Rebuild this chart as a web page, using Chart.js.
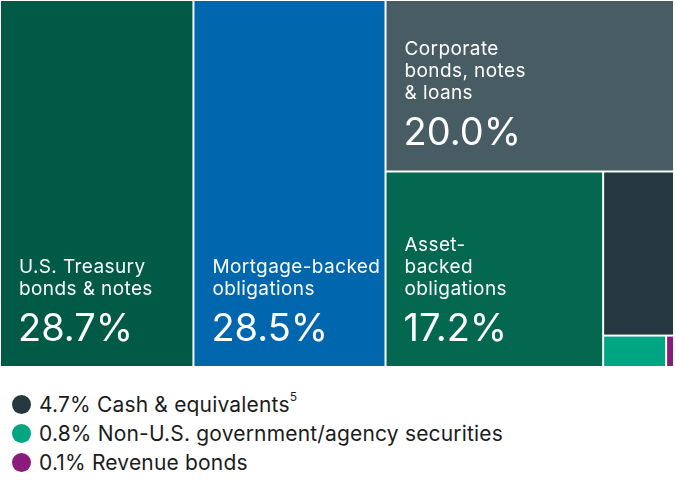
<!DOCTYPE html>
<html>
<head>
<meta charset="utf-8">
<script src="https://cdn.jsdelivr.net/npm/chart.js@4.4.1/dist/chart.umd.min.js"></script>
<style>
  html,body{margin:0;padding:0;background:#fff;}
  body{width:675px;height:500px;position:relative;overflow:hidden;font-family:Inter,Roboto,sans-serif;}
  #wrap{position:absolute;left:0;top:0;width:674px;height:367px;}
  #legend{position:absolute;left:12px;top:390px;}
  .legend-item{display:flex;align-items:center;height:29px;font-size:21px;letter-spacing:0.18px;color:#1c1c1c;}
  .legend-item .dot{width:19px;height:19px;border-radius:50%;margin-right:8px;flex:none;}
  .legend-item sup{font-size:12px;position:relative;top:-3px;}
</style>
</head>
<body>
<div id="wrap"><canvas id="tree"></canvas></div>
<div id="legend"></div>
<script>
// ---- datos ----
const categories = ['U.S. Treasury bonds & notes', 'Mortgage-backed obligations', 'Corporate bonds, notes & loans',
  'Asset-backed obligations', 'Cash & equivalents', 'Non-U.S. government/agency securities', 'Revenue bonds'];
const values = [28.7, 28.5, 20.0, 17.2, 4.7, 0.8, 0.1];
const colors = ['#005a46', '#0066ae', '#485c64', '#03684f', '#26383f', '#00a682', '#8a1b7b'];
// lines of text shown inside the bigger cells (null = shown in legend)
const cellLabels = [['U.S. Treasury', 'bonds & notes'], ['Mortgage-backed', 'obligations'],
  ['Corporate', 'bonds, notes', '& loans'], ['Asset-', 'backed', 'obligations'], null, null, null];
const footnotes = ['', '', '', '', '5', '', ''];

// nesting of the treemap: 'h' splits left to right, 'v' top to bottom
const tree = {dir:'h', kids:[0, 1, {dir:'v', kids:[2, {dir:'h', kids:[3, {dir:'v', kids:[4, {dir:'h', kids:[5, 6]}]}]}]}]};

function nodeSum(n){ return typeof n === 'number' ? values[n] : n.kids.reduce((s,k)=>s+nodeSum(k),0); }

// lays cells out in value units (x 0-100, y 0-100), areas proportional to values
function layout(n, x0, y0, x1, y1, out){
  if(typeof n === 'number'){ out[n] = {x0,y0,x1,y1}; return out; }
  const total = nodeSum(n);
  let pos = n.dir === 'h' ? x0 : y0;
  n.kids.forEach(k=>{
    const share = nodeSum(k)/total;
    if(n.dir === 'h'){
      const nx = pos + (x1-x0)*share;
      layout(k, pos, y0, nx, y1, out); pos = nx;
    } else {
      const ny = pos + (y1-y0)*share;
      layout(k, x0, pos, x1, ny, out); pos = ny;
    }
  });
  return out;
}
const cells = layout(tree, 0, 0, 100, 100, []);

const FONT = 'Inter, Roboto, sans-serif';

const treemapPlugin = {
  id:'treemapCells',
  afterDatasetsDraw(chart){
    const {ctx, scales:{x, y}} = chart;
    ctx.save();
    cells.forEach((c, i)=>{
      const px0 = x.getPixelForValue(c.x0), px1 = x.getPixelForValue(c.x1);
      const py0 = y.getPixelForValue(c.y0), py1 = y.getPixelForValue(c.y1);
      const l = Math.min(px0,px1)+1, r = Math.max(px0,px1)-1;
      const t = Math.min(py0,py1)+1, b = Math.max(py0,py1)-1;
      ctx.fillStyle = colors[i];
      ctx.fillRect(l, t, r-l, b-t);
      const lines = cellLabels[i];
      if(!lines) return;
      ctx.fillStyle = '#ffffff';
      ctx.textAlign = 'left';
      ctx.textBaseline = 'alphabetic';
      const base = b - 25;
      ctx.letterSpacing = '0px';
      ctx.font = '400 38px ' + FONT;
      ctx.fillText(values[i].toFixed(1) + '%', l + 17, base);
      ctx.font = '400 19px ' + FONT;
      ctx.letterSpacing = '0.4px';
      lines.forEach((ln, j)=>{
        ctx.fillText(ln, l + 18, base - 46 - (lines.length-1-j)*22);
      });
      ctx.letterSpacing = '0px';
    });
    ctx.restore();
  }
};

new Chart(document.getElementById('tree'), {
  type:'scatter',
  data:{datasets:[{data:[], pointRadius:0}]},
  options:{
    responsive:true, maintainAspectRatio:false, animation:false,
    layout:{padding:0},
    scales:{
      x:{type:'linear', min:0, max:100, display:false},
      y:{type:'linear', min:0, max:100, reverse:true, display:false}
    },
    plugins:{legend:{display:false}, tooltip:{enabled:false}}
  },
  plugins:[treemapPlugin]
});

// legend for the small cells
const legendEl = document.getElementById('legend');
legendEl.innerHTML = categories.map((c, i)=>{
  if(cellLabels[i]) return '';
  const sup = footnotes[i] ? `<sup>${footnotes[i]}</sup>` : '';
  return `<div class="legend-item"><span class="dot" style="background:${colors[i]}"></span><span>${values[i].toFixed(1)}% ${c.replace('&','&amp;')}${sup}</span></div>`;
}).join('');
</script>
</body>
</html>
